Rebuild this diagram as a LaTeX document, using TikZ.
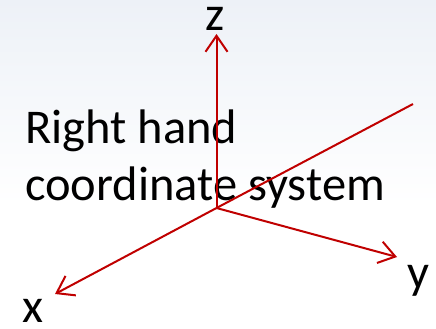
\documentclass[tikz,border=0pt]{standalone}
\usepackage{fontspec}
\setmainfont{Carlito}
\usetikzlibrary{arrows.meta}
\definecolor{axred}{RGB}{192,0,0}
\definecolor{bgtop}{RGB}{237,241,247}

\begin{document}
\begin{tikzpicture}[x=1pt,y=-1pt,font=\fontsize{48.5}{58}\selectfont,
  axis/.style={draw=axred,line width=2pt},
  arr/.style={axis,-{Straight Barb[length=16pt,width=22pt,line width=2pt]}},
  lab/.style={inner sep=0pt,anchor=base},
  txt/.style={inner sep=0pt,anchor=base west}]
% background
\useasboundingbox (0,0) rectangle (436,329);
\shade[top color=bgtop,bottom color=white] (0,0) rectangle (436,205);
\fill[white] (0,205) rectangle (436,329);
% caption
\node[txt] (line1) at (25,143) {Right hand};
\node[txt] (line2) at (25,200) {coordinate system};
% axes
\coordinate (o) at (216.5,208);
\coordinate (zend) at (216.5,34);
\coordinate (xend) at (55,294);
\coordinate (yend) at (397,257);
\coordinate (ext) at (413,104);
\node[lab] (zlab) at (215,31) {z};
\node[lab] (xlab) at (33,322) {x};
\node[lab] (ylab) at (418,288) {y};
\draw[arr] (o) -- (zend);
\draw[arr] (o) -- (xend);
\draw[arr] (o) -- (yend);
\draw[axis] (o) -- (ext);
\end{tikzpicture}
\end{document}
